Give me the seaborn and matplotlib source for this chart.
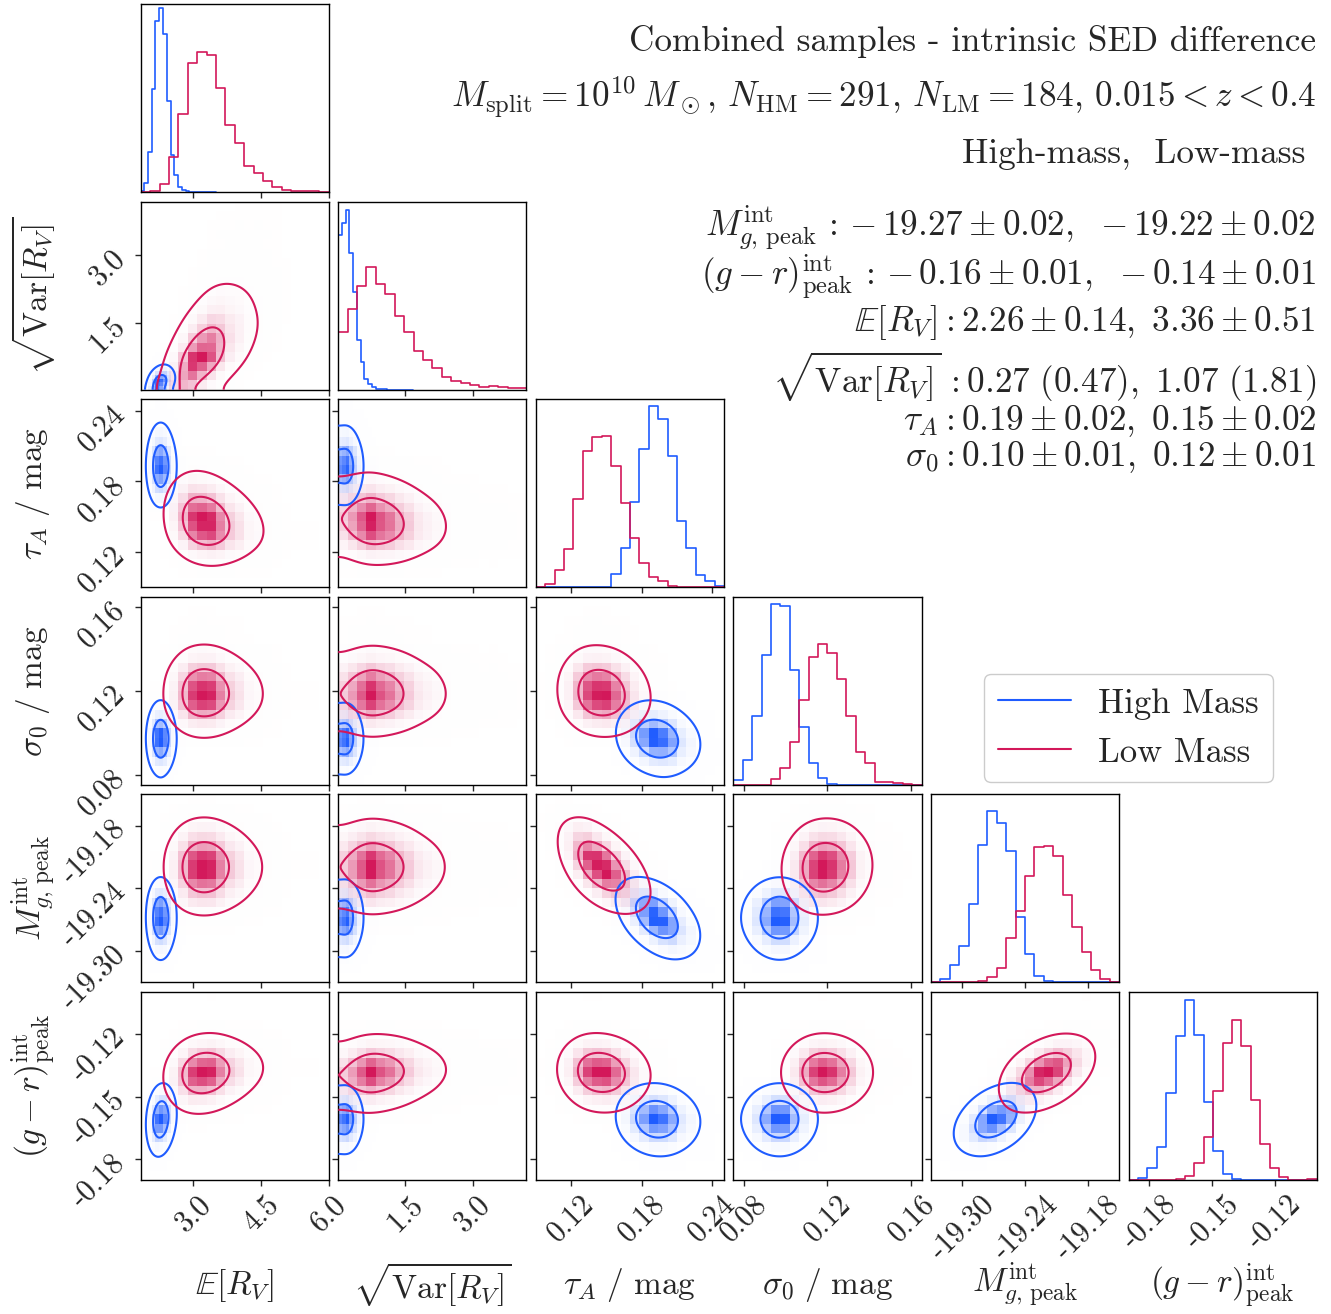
import numpy as np
import pandas as pd
import matplotlib
matplotlib.use("Agg")
import matplotlib.pyplot as plt
from matplotlib.colors import LinearSegmentedColormap
from matplotlib.lines import Line2D
import seaborn as sns
from math import erf

# ---------------- data ----------------
group_names = ["High Mass", "Low Mass"]
group_colors = ["#1f5cff", "#d3185a"]

param_labels = [r"$\mathbb{E}[R_V]$", r"$\sqrt{{\rm Var}[R_V]}$", r"$\tau_A\ /\ {\rm mag}$",
                r"$\sigma_0\ /\ {\rm mag}$", r"$M_{g,\,{\rm peak}}^{\rm int}$",
                r"$(g-r)_{\rm peak}^{\rm int}$"]
axis_lo = [1.844, 0.0, 0.090, 0.0751, -19.330, -0.1899]
axis_hi = [6.0, 4.2, 0.250, 0.1649, -19.150, -0.0998]
tick_values = [[3.0, 4.5, 6.0], [1.5, 3.0], [0.12, 0.18, 0.24], [0.08, 0.12, 0.16],
               [-19.30, -19.24, -19.18], [-0.18, -0.15, -0.12]]
tick_labels = [["3.0", "4.5", "6.0"], ["1.5", "3.0"], ["0.12", "0.18", "0.24"],
               ["0.08", "0.12", "0.16"], ["-19.30", "-19.24", "-19.18"],
               ["-0.18", "-0.15", "-0.12"]]
diag_ymax = [565, 563, 564, 562, 562, 563]

# histogram ranges (20 bins each) per group
high_lo = [1.834, 0.0, 0.090, 0.0751, -19.330, -0.1899]
high_hi = [3.506, 1.67, 0.250, 0.1649, -19.150, -0.0998]
low_lo = [1.844, 0.0, 0.090, 0.0751, -19.330, -0.1899]
low_hi = [6.0, 4.2, 0.250, 0.1649, -19.150, -0.0998]

# High-mass histogram heights
high_E_RV = [2, 29, 122, 309, 515, 552, 475, 275, 112, 52, 15, 5, 2, 1, 0.5, 0.3, 0.2, 0.1, 0.1, 0.1]
high_sqrtVar = [463, 498, 537, 408, 293, 148, 83, 31, 16, 7, 3, 1, 1, 0.5, 0.5, 0.3, 0.2, 0.2, 0.1, 0.1]
high_tauA = [0, 0, 0, 0, 0, 0, 0, 2, 39, 119, 257, 415, 542, 504, 394, 200, 119, 37, 19, 3]
high_sigma0 = [16, 74, 207, 389, 541, 534, 344, 174, 64, 21, 2, 1, 0.5, 0.3, 0.2, 0.1, 0.1, 0.1, 0.1, 0.1]
high_Mg = [2, 10, 52, 109, 234, 409, 513, 477, 394, 194, 84, 19, 4, 2, 1, 0.5, 0.3, 0.3, 0.2, 0.2]
high_gr = [1, 5, 35, 100, 260, 430, 538, 434, 234, 88, 18, 2, 0.5, 0.3, 0.2, 0.1, 0.1, 0.1, 0.1, 0.1]

# Low-mass histogram heights
low_E_RV = [0.5, 2, 26, 105, 234, 389, 422, 412, 312, 203, 149, 80, 59, 34, 16, 5, 2, 2, 2, 1]
low_sqrtVar = [174, 241, 310, 367, 316, 285, 222, 174, 115, 88, 65, 38, 25, 20, 15, 8, 10, 7, 5, 4]
low_tauA = [2, 9, 52, 115, 265, 409, 452, 454, 365, 254, 147, 72, 32, 19, 3, 1, 0.5, 0.3, 0.2, 0.2]
low_sigma0 = [0.1, 0.1, 0.5, 1, 19, 51, 127, 254, 381, 422, 394, 316, 206, 99, 64, 9, 8, 5, 2, 1]
low_Mg = [0.3, 0.3, 0.3, 0.5, 0.5, 4, 17, 42, 132, 214, 317, 404, 407, 377, 262, 165, 92, 37, 10, 2]
low_gr = [0.1, 0.1, 0.2, 0.3, 0.5, 2, 12, 52, 128, 265, 410, 479, 400, 238, 108, 35, 8, 0.5, 1, 2]

# pairwise correlations (lower triangle: row r, columns 0..r-1)
corr_high = [[], [0.3], [0.0, 0.0], [0.0, 0.0, -0.2], [0.0, 0.0, -0.55, 0.0],
             [0.2, 0.0, -0.1, 0.0, 0.5]]
corr_low = [[], [0.6], [-0.2, -0.1], [0.0, 0.0, -0.1], [0.0, 0.0, -0.6, 0.05],
            [0.15, 0.1, -0.1, 0.0, 0.5]]

summary_lines = [
    "Combined samples - intrinsic SED difference",
    r"$M_{\rm split} = 10^{10}\,M_\odot$, $N_{\rm HM} = 291$, $N_{\rm LM} = 184$, $0.015 < z < 0.4$",
    "High-mass,  Low-mass",
    r"$M_{g,\,{\rm peak}}^{\rm int}{\,:\,}{-}\,19.27 \pm 0.02,\ \ {-}\,19.22 \pm 0.02$",
    r"$(g-r)_{\rm peak}^{\rm int}{\,:\,}{-}\,0.16 \pm 0.01,\ \ {-}\,0.14 \pm 0.01$",
    r"$\mathbb{E}[R_V]: 2.26 \pm 0.14,\ 3.36 \pm 0.51$",
    r"$\sqrt{{\rm Var}[R_V]}\,: 0.27\ (0.47),\ 1.07\ (1.81)$",
    r"$\tau_A: 0.19 \pm 0.02,\ 0.15 \pm 0.02$",
    r"$\sigma_0: 0.10 \pm 0.01,\ 0.12 \pm 0.01$",
]
summary_y_px = [41, 98, 154, 228, 277, 323, 377, 421, 457]
summary_x_px = [1316, 1316, 1305, 1316, 1316, 1316, 1316, 1316, 1316]

groups = [
    dict(lo=high_lo, hi=high_hi,
         counts=[high_E_RV, high_sqrtVar, high_tauA, high_sigma0, high_Mg, high_gr], corr=corr_high),
    dict(lo=low_lo, hi=low_hi,
         counts=[low_E_RV, low_sqrtVar, low_tauA, low_sigma0, low_Mg, low_gr], corr=corr_low),
]

# ---------------- style ----------------
sns.set_theme(style="ticks")
plt.rcParams["font.family"] = ["cmr10", "DejaVu Serif"]
plt.rcParams["mathtext.fontset"] = "cm"
plt.rcParams["axes.unicode_minus"] = False
plt.rcParams["axes.formatter.use_mathtext"] = True
plt.rcParams["axes.edgecolor"] = "black"
plt.rcParams["axes.linewidth"] = 1.0

W, H = 1331, 1314
fig = plt.figure(figsize=(W / 100, H / 100), dpi=100)
ndim = 6
axes = fig.subplots(ndim, ndim)
fig.subplots_adjust(left=140.7 / W, right=1316.7 / W, bottom=1 - 1180 / H, top=1 - 4 / H,
                    wspace=0.05, hspace=0.05)

verf = np.vectorize(erf)
N_FINE = 160
SMOOTH = N_FINE / 20.0


def ndtri(u):
    u = np.clip(u, 1e-6, 1 - 1e-6)
    a = np.full(u.shape, -6.0)
    b = np.full(u.shape, 6.0)
    for _ in range(45):
        m = 0.5 * (a + b)
        c = 0.5 * (1.0 + verf(m / np.sqrt(2.0)))
        below = c < u
        a = np.where(below, m, a)
        b = np.where(below, b, m)
    return 0.5 * (a + b)


def marginal(lo, hi, counts, n_fine=N_FINE):
    counts = np.asarray(counts, float)
    edges = np.linspace(lo, hi, len(counts) + 1)
    centers = 0.5 * (edges[1:] + edges[:-1])
    p = counts / counts.sum()
    z = ndtri(np.cumsum(p) - 0.5 * p)
    xf = np.linspace(lo, hi, n_fine)
    ff = np.interp(xf, centers, p / np.diff(edges))
    pf = ff / ff.sum()
    zf = ndtri(np.cumsum(pf) - 0.5 * pf)
    return dict(lo=lo, hi=hi, edges=edges, centers=centers, counts=counts, p=p, z=z,
                xf=xf, ff=ff, zf=zf)


def copula(zx, zy, rho):
    A, B = np.meshgrid(zx, zy)
    q = (rho ** 2 * (A ** 2 + B ** 2) - 2 * rho * A * B) / (2 * (1 - rho ** 2))
    return np.exp(-q) / np.sqrt(1 - rho ** 2)


def smooth2d(Z, s):
    n = int(3 * s) + 1
    k = np.exp(-0.5 * (np.arange(-n, n + 1) / s) ** 2)
    k /= k.sum()
    Zp = np.pad(Z, n, mode="reflect")
    Zp = np.apply_along_axis(lambda v: np.convolve(v, k, mode="same"), 0, Zp)
    Zp = np.apply_along_axis(lambda v: np.convolve(v, k, mode="same"), 1, Zp)
    return Zp[n:-n, n:-n]


def mass_levels(Z, fracs):
    flat = np.sort(Z.ravel())[::-1]
    cs = np.cumsum(flat)
    cs /= cs[-1]
    return sorted(flat[np.searchsorted(cs, f)] for f in fracs)


margs = [[marginal(g["lo"][i], g["hi"][i], g["counts"][i]) for i in range(ndim)] for g in groups]
levels_frac = [1 - np.exp(-0.5), 1 - np.exp(-2.0)]

for r in range(ndim):
    for c in range(ndim):
        ax = axes[r, c]
        if c > r:
            ax.set_visible(False)
            continue
        if r == c:
            for gi, g in enumerate(groups):
                m = margs[gi][r]
                df = pd.DataFrame({"x": m["centers"], "w": m["counts"]})
                sns.histplot(data=df, x="x", weights="w", bins=len(m["counts"]),
                             binrange=(m["lo"], m["hi"]), element="step",
                             fill=False, color=group_colors[gi], linewidth=1.2, ax=ax)
            ax.set_ylim(0, diag_ymax[r])
            ax.set_yticks([])
            ax.set_ylabel("")
        else:
            for gi, g in enumerate(groups):
                mx, my = margs[gi][c], margs[gi][r]
                rho = g["corr"][r][c]
                Hh = np.outer(my["p"], mx["p"]) * copula(mx["z"], my["z"], rho)
                cmap = LinearSegmentedColormap.from_list("d%d" % gi, [(1, 1, 1, 0), group_colors[gi]])
                ax.pcolormesh(mx["edges"], my["edges"], Hh / Hh.max(), cmap=cmap, vmin=0, vmax=1,
                              shading="flat", zorder=1)
            for gi, g in enumerate(groups):
                mx, my = margs[gi][c], margs[gi][r]
                rho = g["corr"][r][c]
                Z = np.outer(my["ff"], mx["ff"]) * copula(mx["zf"], my["zf"], rho)
                Z = smooth2d(Z, SMOOTH)
                lv = mass_levels(Z, levels_frac)
                ax.contour(mx["xf"], my["xf"], Z, levels=lv, colors=group_colors[gi],
                           linewidths=1.5, zorder=3)
            ax.set_ylim(axis_lo[r], axis_hi[r])
            ax.set_yticks(tick_values[r])
            if c == 0:
                ax.set_yticklabels(tick_labels[r], rotation=45, fontsize=21.5)
                ax.set_ylabel(param_labels[r], fontsize=24, va="center")
                ax.yaxis.set_label_coords(-0.57, 0.5)
            else:
                ax.set_yticklabels([])
                ax.set_ylabel("")
        ax.set_xlim(axis_lo[c], axis_hi[c])
        ax.set_xticks(tick_values[c])
        if r == ndim - 1:
            ax.set_xticklabels(tick_labels[c], rotation=45, fontsize=21.5)
            ax.set_xlabel(param_labels[c], fontsize=24, va="center")
            ax.xaxis.set_label_coords(0.5, -0.56)
        else:
            ax.set_xticklabels([])
            ax.set_xlabel("")
        for s in ax.spines.values():
            s.set_visible(True)
            s.set_linewidth(1.0)
        ax.tick_params(direction="out", length=4, width=1, top=False, right=False)

for txt, ypx, xpx in zip(summary_lines, summary_y_px, summary_x_px):
    fig.text(xpx / W, 1 - ypx / H, txt, ha="right", va="center", fontsize=25.3)

handles = [Line2D([], [], color=col, lw=1.5) for col in group_colors]
fig.legend(handles, group_names, loc="upper right", bbox_to_anchor=(1273 / W, 1 - 674 / H),
           fontsize=25, handlelength=2.1, frameon=True, fancybox=True, edgecolor="0.8",
           framealpha=1.0, borderaxespad=0.0)

fig.savefig("out.png", dpi=100)
